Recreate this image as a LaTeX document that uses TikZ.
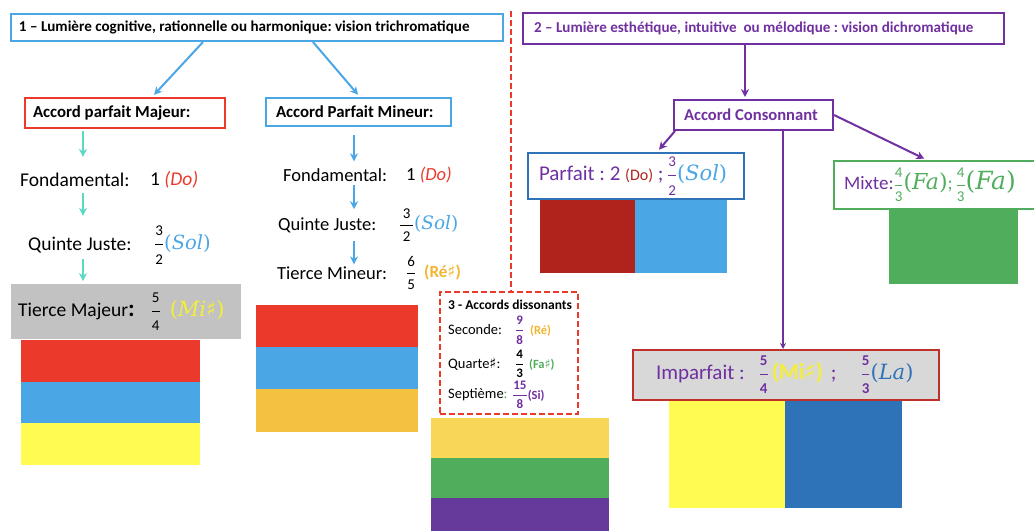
\documentclass[tikz,border=0pt]{standalone}
\usepackage{fontspec}
\setmainfont{Carlito}
\newfontfamily\cmf{DejaVu Serif}
\newfontfamily\djs{DejaVu Sans}
\usetikzlibrary{arrows.meta,calc}
\definecolor{cBlue}{HTML}{4BA6E6}
\definecolor{cRed}{HTML}{EB3A2C}
\definecolor{cTeal}{HTML}{5CD9C2}
\definecolor{cYel}{HTML}{FFFB50}
\definecolor{cYelT}{HTML}{F4EE3A}
\definecolor{cOra}{HTML}{F4C141}
\definecolor{cOraT}{HTML}{F2B530}
\definecolor{cGray}{HTML}{C2C2C2}
\definecolor{cGrayL}{HTML}{D8D8D8}
\definecolor{cPur}{HTML}{7030A0}
\definecolor{cPurF}{HTML}{663A9A}
\definecolor{cGreen}{HTML}{4FAD5C}
\definecolor{cDRed}{HTML}{B0231C}
\definecolor{cDBlue}{HTML}{2E72B8}
\definecolor{cYelB}{HTML}{F8D658}
\definecolor{cBRed}{HTML}{C0302B}
\newcommand{\fs}[1]{\fontsize{#1}{#1}\selectfont}
\newcommand{\fr}[3]{$\displaystyle\frac{\mbox{\fs{#1}#2}}{\mbox{\fs{#1}#3}}$}
\newcommand{\mv}[1]{{\cmf(\textit{#1})}}
\newcommand{\shp}{{\djs ♯}}
\newcommand{\lb}[2]{\makebox[#1][l]{#2}}
\frenchspacing
\begin{document}
\begin{tikzpicture}[x=1pt,y=-1pt,
  box/.style={draw,line width=2pt,anchor=north west,inner ysep=0pt},
  lbl/.style={anchor=west,inner sep=0pt},
  arr/.style={line width=2pt,-{Stealth[length=8pt,width=8pt]}},
  arrs/.style={line width=2pt,-{Stealth[length=6pt,width=6pt]}},
]
\useasboundingbox (0,0) rectangle (1034,531);
% color stacks
\fill[cRed] (21,340) rectangle (200,382);
\fill[cBlue] (21,382) rectangle (200,423);
\fill[cYel] (21,423) rectangle (200,465);
\fill[cRed] (256,305) rectangle (418,347);
\fill[cBlue] (256,347) rectangle (418,389);
\fill[cOra] (256,389) rectangle (418,432);
\fill[cYelB] (431,418) rectangle (609,458);
\fill[cGreen] (431,458) rectangle (609,498);
\fill[cPurF] (431,498) rectangle (609,531);
\fill[cDRed] (540,198) rectangle (635,273);
\fill[cBlue] (635,198) rectangle (727,273);
\fill[cGreen] (889,208) rectangle (1018,284);
\fill[cYel] (669,399) rectangle (785,508);
\fill[cDBlue] (785,399) rectangle (902,508);

% part 1
\node[box,draw=cBlue,minimum height=27pt,inner xsep=8pt,font=\fs{15.1}\bfseries] (b1) at (10,13)
  {\lb{476pt}{1 – Lumière cognitive, rationnelle ou harmonique: vision trichromatique}};
\node[box,draw=cRed,minimum height=30pt,inner xsep=8pt,font=\fs{16.8}\bfseries] (maj) at (24,97)
  {\lb{184pt}{Accord parfait Majeur:}};
\node[box,draw=cBlue,minimum height=28pt,inner xsep=10pt,font=\fs{16.8}\bfseries] (mM) at (265,97)
  {\lb{165pt}{Accord Parfait Mineur:}};
\draw[arr,cBlue,shorten >=3pt] ([xshift=193pt]b1.south west) -- ([xshift=128pt]maj.north west);
\draw[arr,cBlue,shorten >=3pt] ([xshift=303pt]b1.south west) -- ([xshift=95pt]mM.north west);

% major column
\coordinate (xl) at (83,0);
\node[lbl,font=\fs{19.5}] (fL) at (20,180) {Fondamental:};
\node[lbl,font=\fs{19.5}] (fLv) at (150,180) {1 \textcolor{cRed}{\itshape(Do)}};
\node[lbl,font=\fs{19.5}] (qL) at (28,245) {Quinte Juste:};
\node[lbl,font=\fs{19.5}] (qLv) at (154,245) {\fr{15}{3}{2}\textcolor{cBlue}{\mv{Sol}}};
\node[anchor=north west,fill=cGray,minimum width=230pt,minimum height=55pt,inner xsep=7pt,font=\fs{19.5}] (tL) at (11,284)
  {\lb{216pt}{Tierce Majeur{\fs{24}\bfseries :}\hspace{16pt}\fr{15}{5}{4}\hspace{9pt}\textcolor{cYelT}{\fs{21}\mv{Mi\shp}}}};
\draw[arr,cTeal,shorten <=2pt,shorten >=16pt] (maj.south -| xl) -- (fL.north -| xl);
\draw[arr,cTeal,shorten <=6pt,shorten >=21pt] (fL.south -| xl) -- (qL.north -| xl);
\draw[arr,cTeal,shorten <=6pt,shorten >=3pt] (qL.south -| xl) -- (tL.north -| xl);

% minor column
\coordinate (xm) at (354,0);
\node[lbl,font=\fs{18.5}] (fM) at (283,175) {Fondamental:};
\node[lbl,font=\fs{18.5}] (fMv) at (406,175) {1 \textcolor{cRed}{\itshape(Do)}};
\node[lbl,font=\fs{18.5}] (qM) at (278,225) {Quinte Juste:};
\node[lbl,font=\fs{18.5}] (qMv) at (399,225) {\fr{15}{\,3\,}{\,2\,}\textcolor{cBlue}{\mv{Sol}}};
\node[lbl,font=\fs{18.5}] (tM) at (277,273) {Tierce Mineur:};
\node[lbl,font=\fs{18.5}] (tMv) at (406,273) {\fr{15}{6}{5}\hspace{8pt}\textcolor{cOraT}{\fs{17}\bfseries(Ré\shp)}};
\draw[arr,cBlue,shorten <=8pt,shorten >=7pt] (mM.south -| xm) -- (fM.north -| xm);
\draw[arr,cBlue,shorten <=3pt,shorten >=8pt] (fM.south -| xm) -- (qM.north -| xm);
\draw[arr,cBlue,shorten <=8pt,shorten >=2pt] (qM.south -| xm) -- (tM.north -| xm);

% dissonant
\node[draw=cRed,line width=2pt,dash pattern=on 6pt off 3pt,anchor=north west,minimum width=138pt,minimum height=122pt,inner sep=0pt] (dis) at (439,291) {};
\coordinate (vtop) at (511,11);
\draw[cRed,line width=1.6pt,dash pattern=on 6pt off 3pt] (vtop) -- (dis.north -| vtop);
\node[lbl,font=\fs{13.5}\bfseries] (dt) at (448,305) {3 - Accords dissonants};
\node[lbl,font=\fs{14.5}] (d1) at (448,330) {Seconde:};
\node[lbl,font=\fs{14}] (d1v) at (515,330) {\textcolor{cPur}{\fr{13}{\bfseries 9}{\bfseries 8}}\hspace{6pt}\textcolor{cOraT}{\fs{12.5}\bfseries(Ré)}};
\node[lbl,font=\fs{14.5}] (d2) at (448,364) {Quarte\shp:};
\node[lbl,font=\fs{14}] (d2v) at (515,364) {\fr{13}{\bfseries 4}{\bfseries 3}\hspace{5pt}\textcolor{cGreen}{\fs{12.5}\bfseries(Fa\shp)}};
\node[lbl,font=\fs{14.5}] (d3) at (448,395) {Septième\textcolor{cGreen}{:}};
\node[lbl,font=\fs{14}] (d3v) at (512,395) {\textcolor{cPur}{\fr{13}{\bfseries 15}{\bfseries 8}\fs{12.5}\bfseries(Si)}};

% part 2
\node[box,draw=cPur,minimum height=31pt,inner xsep=11pt,font=\fs{15.1}\bfseries,text=cPur] (b2) at (522,12)
  {\lb{459pt}{2 – Lumière esthétique, intuitive\ \ ou mélodique : vision dichromatique}};
\node[box,draw=cPur,minimum height=30pt,inner xsep=10pt,font=\fs{16.6}\bfseries,text=cPur] (cons) at (673,99)
  {\lb{139pt}{Accord Consonnant}};
\draw[arr,cPur,shorten >=2pt] ([xshift=223pt]b2.south west) -- ([xshift=72pt]cons.north west);
\node[box,draw=cDBlue,minimum height=46pt,inner xsep=11pt,font=\fs{21}] (parf) at (527,152)
  {\lb{194pt}{\textcolor{cPur}{Parfait : 2} \textcolor{cDRed}{\fs{16}(Do)} \textcolor{cPur}{;\,\fr{15}{3}{2}}\textcolor{cBlue}{\mv{Sol}}}};
\node[box,draw=cGreen,minimum height=48pt,inner xsep=10pt,font=\fs{19}] (mix) at (833,160)
  {\lb{190pt}{\textcolor{cPur}{Mixte:}\textcolor{cGreen}{\fr{15}{4}{3}{\fs{22}\mv{Fa}};\hspace{3pt}\fr{15}{4}{3}{\fs{25}\mv{Fa}}}}};
\node[box,draw=cBRed,fill=cGrayL,minimum height=50pt,inner xsep=23pt,font=\fs{21}] (imp) at (632,349)
  {\lb{260pt}{\textcolor{cPur}{Imparfait :}\hspace{14pt}\textcolor{cPur}{\fr{15}{\bfseries 5}{\bfseries 4}}\hspace{3pt}\textcolor{cYelT}{\fs{23}\bfseries(Mi\shp)}\hspace{8pt}\textcolor{cPur}{;}\hspace{24pt}\textcolor{cPur}{\fr{15}{\bfseries 5}{\bfseries 3}}\textcolor{cDBlue}{\mv{La}}}};
\draw[arr,cPur,shorten >=3pt] ([xshift=2pt]cons.south west) -- ([xshift=130pt]parf.north west);
\draw[arr,cPur,shorten >=3pt] (cons.east) -- ([xshift=94pt]mix.north west);
\draw[arrs,cPur] ([xshift=110pt]cons.south west) -- ([xshift=151pt]imp.north west);
\end{tikzpicture}
\end{document}
